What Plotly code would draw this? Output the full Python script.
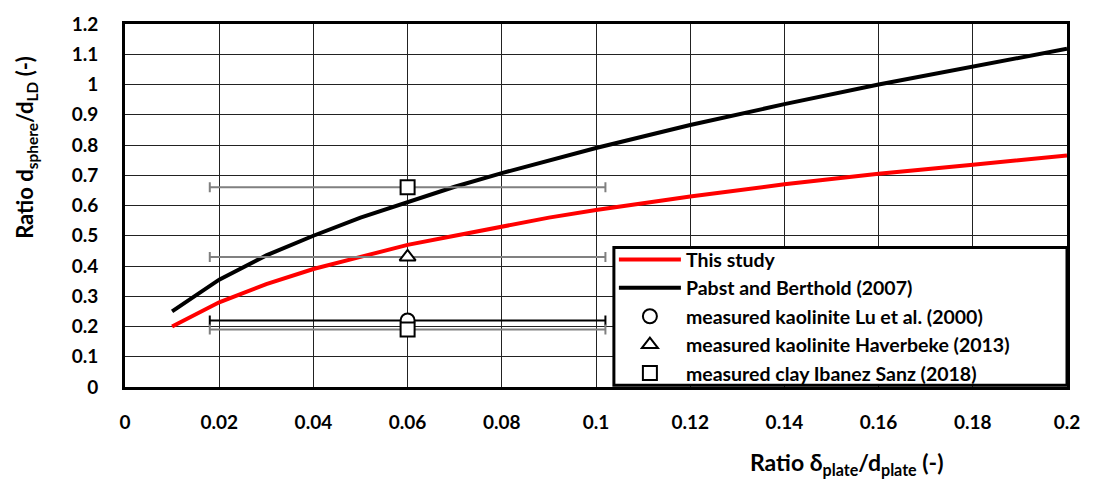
import plotly.graph_objects as go

# Data
x_curve = [0.01, 0.02, 0.03, 0.04, 0.05, 0.06, 0.07, 0.08, 0.09, 0.10, 0.12, 0.14, 0.16, 0.18, 0.20]
this_study = [0.20, 0.28, 0.34, 0.39, 0.43, 0.47, 0.50, 0.53, 0.56, 0.585, 0.63, 0.67, 0.705, 0.735, 0.765]
pabst = [0.25, 0.355, 0.435, 0.50, 0.56, 0.612, 0.662, 0.707, 0.75, 0.79, 0.866, 0.935, 1.0, 1.06, 1.118]

lu_x = [0.06]
lu_y = [0.22]
hav_x = [0.06]
hav_y = [0.43]
ibs_x = [0.06, 0.06]
ibs_y = [0.66, 0.19]
x_err = 0.042

FONT = "Lato"

fig = go.Figure()
fig.add_trace(go.Scatter(x=x_curve, y=this_study, mode="lines", name="This study",
                         line=dict(color="#ff0000", width=4)))
fig.add_trace(go.Scatter(x=x_curve, y=pabst, mode="lines", name="Pabst and Berthold (2007)",
                         line=dict(color="#000000", width=4)))
fig.add_trace(go.Scatter(x=lu_x, y=lu_y, mode="markers", name="measured kaolinite Lu et al. (2000)",
                         marker=dict(symbol="circle", size=14, color="white",
                                     line=dict(color="black", width=2)),
                         error_x=dict(type="constant", value=x_err, color="#000000", thickness=2, width=5)))
fig.add_trace(go.Scatter(x=hav_x, y=hav_y, mode="markers", name="measured kaolinite Haverbeke (2013)",
                         marker=dict(symbol="triangle-up", size=14, color="white",
                                     line=dict(color="black", width=2)),
                         error_x=dict(type="constant", value=x_err, color="#808080", thickness=2, width=5)))
fig.add_trace(go.Scatter(x=ibs_x, y=ibs_y, mode="markers", name="measured clay Ibanez Sanz (2018)",
                         marker=dict(symbol="square", size=14, color="white",
                                     line=dict(color="black", width=2)),
                         error_x=dict(type="constant", value=x_err, color="#808080", thickness=2, width=5)))

# legend frame (drawn as a shape so it can be sized exactly)
fig.add_shape(type="rect", xref="paper", yref="paper", x0=0.519, x1=1.0, y0=0.005, y1=0.384,
              line=dict(color="black", width=3), fillcolor="white", layer="above")

fig.update_layout(
    width=1093, height=479,
    margin=dict(l=125, r=26, t=17, b=92),
    plot_bgcolor="white", paper_bgcolor="white",
    font=dict(family=FONT, size=19, color="black"),
    showlegend=True,
    legend=dict(x=0.519, y=0.404, xanchor="left", yanchor="top",
                bgcolor="rgba(0,0,0,0)", borderwidth=0,
                font=dict(family=FONT, size=19.5, color="black", weight="bold"),
                tracegroupgap=0, itemwidth=62),
)
fig.update_xaxes(range=[0, 0.2], dtick=0.02, tickformat="~g",
                 showgrid=True, gridcolor="#222222", gridwidth=1,
                 showline=True, linecolor="black", linewidth=3, mirror=True,
                 ticks="", zeroline=False,
                 tickfont=dict(family=FONT, size=19, weight="bold"), ticklabelstandoff=16)
fig.update_yaxes(range=[0, 1.2], dtick=0.1, tickformat="~g",
                 showgrid=True, gridcolor="#222222", gridwidth=1,
                 showline=True, linecolor="black", linewidth=3, mirror=True,
                 ticks="", zeroline=False,
                 tickfont=dict(family=FONT, size=19, weight="bold"), ticklabelstandoff=20)

fig.add_annotation(text="Ratio d<sub>sphere</sub>/d<sub>LD</sub> (-)", xref="paper", yref="paper",
                   x=-0.105, y=0.659, xanchor="center", yanchor="middle", showarrow=False,
                   textangle=-90,
                   font=dict(family=FONT, size=22, color="black", weight="bold"))
fig.add_annotation(text="Ratio δ<sub>plate</sub>/d<sub>plate</sub> (-)", xref="paper", yref="paper",
                   x=0.766, y=-0.211, xanchor="center", yanchor="middle", showarrow=False,
                   font=dict(family=FONT, size=23, color="black", weight="bold"))

fig.write_html("out.html")
